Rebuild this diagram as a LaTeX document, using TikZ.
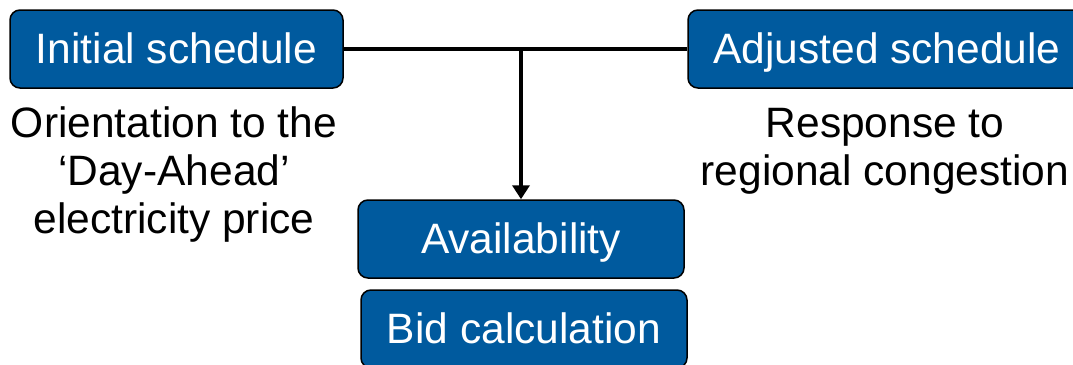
\documentclass[tikz,border=0pt]{standalone}
\usepackage{fontspec}
\setmainfont{Liberation Sans}
\usetikzlibrary{arrows.meta, positioning}
\definecolor{cblue}{HTML}{005A9E}
\tikzset{
  every picture/.style={font=\fontsize{42.5}{48}\selectfont},
  box/.style={draw=black, fill=cblue, text=white, rounded corners=10pt, line width=1.5pt, minimum height=78pt, inner sep=0pt, text height=31pt, text depth=3pt},
  arrow/.style={-{Triangle[length=14pt, width=17pt]}, line width=4pt},
  note/.style={align=center, inner sep=0pt},
}
\begin{document}
\begin{tikzpicture}[x=1pt, y=-1pt]
  \useasboundingbox (0,0) rectangle (1073,364);
  % schedules
  \node[box, minimum width=333pt] (initial) at (176.5,49) {Initial schedule};
  \node[box, minimum width=398pt] (adjusted) at (887,49) {Adjusted schedule};
  % outputs
  \node[box, minimum width=326pt] (avail) at (521,239) {Availability};
  \node[box, minimum width=326pt] (bid) at (524,329) {Bid calculation};
  % notes
  \node[note] (orient) at (174,175) {Orientation to the\\‘Day-Ahead’\\electricity price};
  \node[note] (response) at (885,151) {Response to\\regional congestion};
  % connectors
  \coordinate (junction) at (avail.north |- initial.east);
  \draw[line width=4pt] (initial.east) -- (adjusted.west);
  \draw[arrow] (junction) -- (avail.north);
\end{tikzpicture}
\end{document}
